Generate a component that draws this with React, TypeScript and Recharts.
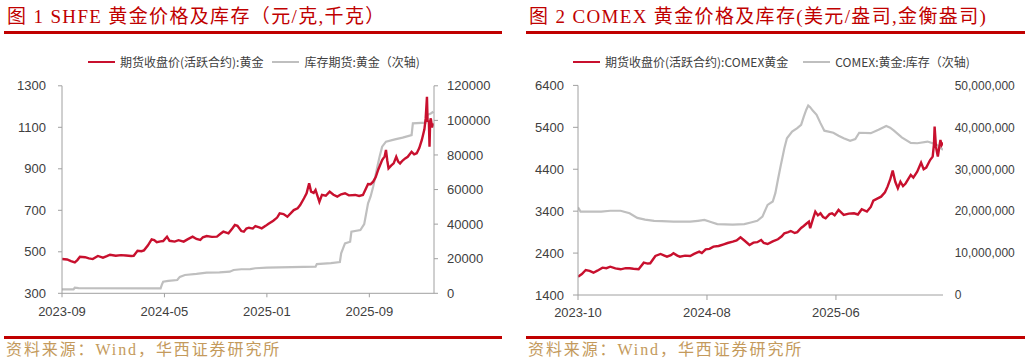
import React from 'react';
import { LineChart, Line, XAxis, YAxis } from 'recharts';

// ---------- text ----------
const shfeTitle = '图 1 SHFE 黄金价格及库存（元/克,千克）';
const comexTitle = '图 2 COMEX 黄金价格及库存(美元/盎司,金衡盎司)';
const sourceText = '资料来源：Wind，华西证券研究所';
const shfeNames = ['期货收盘价(活跃合约):黄金', '库存期货:黄金（次轴)'];
const comexNames = ['期货收盘价(活跃合约):COMEX黄金', 'COMEX:黄金:库存（次轴)'];

// ---------- SHFE (months since 2023-09) ----------
const shfeTickMonths = [0, 8, 16, 24];
const shfeTickLabels = ['2023-09', '2024-05', '2025-01', '2025-09'];
const shfeLeftTicks = [300, 500, 700, 900, 1100, 1300];
const shfeRightTicks = [0, 20000, 40000, 60000, 80000, 100000, 120000];

const shfePriceT = [0, 0.4, 0.7, 1.0, 1.2, 1.4, 1.8, 2.1, 2.4, 2.8, 3.2, 3.5, 3.75, 4.2, 4.6, 5.0, 5.4, 5.6, 5.9, 6.2, 6.4, 6.7, 7.0, 7.2, 7.4, 7.7, 7.9, 8.2, 8.4, 8.8, 9.1, 9.5, 9.8, 10.2, 10.5, 10.8, 11.0, 11.3, 11.7, 12.1, 12.4, 12.6, 13.0, 13.3, 13.5, 13.7, 14.0, 14.2, 14.4, 14.6, 14.9, 15.1, 15.4, 15.6, 15.9, 16.1, 16.5, 16.8, 17.0, 17.3, 17.6, 18.1, 18.4, 18.6, 18.9, 19.1, 19.3, 19.45, 19.65, 19.8, 20.1, 20.3, 20.6, 20.9, 21.2, 21.5, 21.8, 22.1, 22.4, 22.9, 23.2, 23.5, 23.7, 23.9, 24.1, 24.3, 24.5, 24.7, 25.0, 25.2, 25.3, 25.4, 25.5, 25.7, 25.9, 26.1, 26.25, 26.4, 26.6, 26.8, 27.0, 27.3, 27.5, 27.7, 27.9, 28.1, 28.3, 28.4, 28.5, 28.55, 28.65, 28.7, 28.75, 28.8, 28.9, 29.0];
const shfePriceV = [465, 463, 455, 449, 460, 476, 474, 468, 465, 480, 472, 479, 486, 481, 484, 482, 480, 481, 505, 503, 507, 530, 560, 556, 546, 550, 552, 573, 553, 549, 556, 549, 560, 573, 562, 557, 570, 576, 572, 573, 588, 597, 589, 612, 629, 625, 600, 597, 612, 616, 612, 624, 618, 613, 625, 634, 650, 665, 685, 682, 669, 701, 710, 725, 758, 782, 830, 790, 784, 798, 741, 774, 770, 790, 775, 766, 777, 782, 772, 774, 769, 774, 800, 827, 826, 838, 860, 897, 942, 960, 991, 940, 902, 915, 926, 958, 935, 926, 940, 950, 958, 982, 970, 975, 1000, 1039, 1090, 1143, 1247, 1130, 1127, 1006, 1130, 1143, 1100, 1119];

const shfeStockT = [0, 0.9, 1.0, 1.3, 7.7, 7.8, 7.9, 8.3, 9.0, 9.2, 9.6, 10.5, 11.3, 12.3, 13.1, 13.4, 14.0, 14.7, 15.1, 16.0, 19.8, 19.9, 21.0, 21.7, 21.8, 22.0, 22.1, 22.5, 22.6, 23.3, 23.6, 23.9, 24.1, 24.3, 24.6, 24.8, 25.0, 25.3, 26.0, 26.6, 27.3, 27.4, 28.4, 28.5, 28.8, 29.0];
const shfeStockV = [2300, 2300, 3200, 3000, 2900, 5000, 6700, 7200, 7700, 9500, 10600, 11200, 11900, 12100, 12500, 13500, 13900, 14000, 14500, 14800, 15400, 16900, 17400, 18100, 23100, 27000, 28900, 29800, 35600, 36600, 40000, 52000, 56000, 61600, 72300, 79000, 84800, 87700, 89000, 90000, 91500, 98300, 98700, 103100, 104000, 105000];

// ---------- COMEX (months since 2023-10) ----------
const comexTickMonths = [0, 10, 20];
const comexTickLabels = ['2023-10', '2024-08', '2025-06'];
const comexLeftTicks = [1400, 2400, 3400, 4400, 5400, 6400];
const comexRightTicks = [0, 10000000, 20000000, 30000000, 40000000, 50000000];

const comexPriceT = [0, 0.3, 0.6, 0.9, 1.2, 1.5, 1.9, 2.2, 2.5, 2.9, 3.3, 3.7, 4.0, 4.3, 4.7, 5.1, 5.4, 5.6, 6.0, 6.4, 6.7, 6.9, 7.2, 7.4, 7.7, 7.9, 8.3, 8.7, 9.0, 9.4, 9.6, 9.9, 10.2, 10.5, 10.9, 11.3, 11.6, 12.0, 12.3, 12.6, 12.9, 13.3, 13.6, 13.9, 14.2, 14.4, 14.7, 15.1, 15.5, 15.8, 16.0, 16.3, 16.5, 16.8, 17.0, 17.3, 17.5, 17.7, 17.9, 18.0, 18.2, 18.4, 18.6, 18.8, 19.0, 19.2, 19.5, 19.7, 19.9, 20.2, 20.4, 20.6, 21.0, 21.4, 21.7, 22.0, 22.4, 22.7, 22.9, 23.2, 23.5, 23.8, 24.0, 24.2, 24.4, 24.6, 24.8, 25.0, 25.2, 25.4, 25.8, 26.0, 26.3, 26.6, 26.8, 27.0, 27.3, 27.5, 27.6, 27.65, 27.75, 27.8, 27.9, 28.0, 28.1, 28.2, 28.3];
const comexPriceV = [1837, 1900, 1997, 1975, 1932, 1980, 2052, 2040, 2075, 2035, 2013, 2040, 2037, 2025, 2013, 2171, 2150, 2156, 2331, 2378, 2340, 2315, 2350, 2395, 2340, 2315, 2340, 2331, 2380, 2434, 2400, 2490, 2500, 2553, 2570, 2610, 2640, 2672, 2700, 2777, 2700, 2593, 2649, 2660, 2713, 2640, 2617, 2680, 2730, 2800, 2872, 2900, 2927, 2880, 2900, 3000, 3047, 3100, 3150, 2992, 3200, 3388, 3300, 3350, 3260, 3230, 3330, 3350, 3300, 3429, 3370, 3309, 3340, 3350, 3320, 3445, 3390, 3500, 3651, 3700, 3746, 3850, 3985, 4150, 4367, 4100, 3946, 4104, 4000, 4060, 4264, 4200, 4343, 4557, 4400, 4440, 4620, 4701, 5000, 5417, 4950, 4860, 4701, 4900, 5099, 4980, 5035];

const comexStockT = [0, 0.2, 1.8, 2.5, 3.3, 4.0, 4.6, 5.2, 5.9, 6.5, 7.4, 8.7, 9.3, 9.8, 10.3, 10.8, 12.0, 12.9, 13.4, 13.9, 14.3, 14.7, 15.1, 15.3, 15.5, 15.7, 16.0, 16.2, 16.6, 17.0, 17.3, 17.5, 17.7, 17.85, 18.0, 18.2, 18.5, 18.8, 19.1, 19.8, 20.2, 20.6, 21.1, 21.5, 21.8, 22.7, 23.3, 23.9, 24.2, 24.5, 25.1, 25.8, 26.3, 27.1, 27.7, 28.0, 28.3];
const comexStockV = [20900000, 19900000, 19900000, 20100000, 20100000, 19500000, 18400000, 18000000, 17700000, 17600000, 17500000, 17500000, 17700000, 17900000, 17400000, 16900000, 16800000, 16900000, 17300000, 17700000, 18700000, 21500000, 22300000, 24300000, 27500000, 30600000, 35000000, 37400000, 39000000, 39800000, 40600000, 42500000, 44200000, 45200000, 44800000, 44000000, 43000000, 41000000, 39200000, 38700000, 38000000, 37400000, 36800000, 37200000, 38700000, 38600000, 39400000, 40300000, 39900000, 39200000, 37600000, 36300000, 36200000, 36600000, 36000000, 35500000, 34600000];

const zip = (t: number[], v: number[]) => t.map((x, i) => ({ t: x, v: v[i] }));
const shfePrice = zip(shfePriceT, shfePriceV);
const shfeStock = zip(shfeStockT, shfeStockV);
const comexPrice = zip(comexPriceT, comexPriceV);
const comexStock = zip(comexStockT, comexStockV);

const RED = '#C8102E';
const GRAY = '#BFBFBF';
const AXIS = '#A0A0A0';
const TXT = '#404040';
const TITLE_RED = '#C00000';
const GOLD = '#C49A5C';
const tickFont = { fill: TXT, fontSize: 13, fontFamily: '"Liberation Sans", Arial, sans-serif' };

const abs = (s: React.CSSProperties): React.CSSProperties => ({ position: 'absolute', ...s });

function LegendItem({ color, label }: { color: string; label: string }) {
  return (
    <div style={{ display: 'flex', alignItems: 'center', whiteSpace: 'nowrap' }}>
      <div style={{ width: 27, height: 2.5, background: color, marginRight: 5 }} />
      <span>{label}</span>
    </div>
  );
}

function Frame({ x, w, title }: { x: number; w: number; title: string }) {
  return (
    <>
      <div style={abs({ left: x + 3, top: 6, fontSize: 19, lineHeight: '22px', color: TITLE_RED, letterSpacing: 1.35, whiteSpace: 'nowrap', fontFamily: '"Liberation Serif", "Noto Sans CJK SC", serif' })}>{title}</div>
      <div style={abs({ left: x, top: 31, width: w, height: 3, background: TITLE_RED })} />
      <div style={abs({ left: x, top: 336, width: w, height: 3, background: TITLE_RED })} />
      <div style={abs({ left: x + 2, top: 341, fontSize: 16, lineHeight: '18px', color: GOLD, letterSpacing: 1.9, whiteSpace: 'nowrap', fontFamily: '"Liberation Serif", "Noto Sans CJK SC", serif' })}>{sourceText}</div>
    </>
  );
}

export default function App() {
  return (
    <div style={abs({ left: 0, top: 0, width: 1029, height: 362, background: '#fff', overflow: 'hidden', fontFamily: '"Noto Sans CJK SC", sans-serif' })}>
      <Frame x={4} w={498} title={shfeTitle} />
      <Frame x={526} w={499} title={comexTitle} />

      {/* SHFE legend */}
      <div style={abs({ left: 88, top: 53, display: 'flex', gap: 9, fontSize: 12, color: TXT, lineHeight: '18px' })}>
        <LegendItem color={RED} label={shfeNames[0]} />
        <LegendItem color={GRAY} label={shfeNames[1]} />
      </div>
      {/* COMEX legend */}
      <div style={abs({ left: 573, top: 53, display: 'flex', gap: 15, fontSize: 12, color: TXT, lineHeight: '18px' })}>
        <LegendItem color={RED} label={comexNames[0]} />
        <LegendItem color={GRAY} label={comexNames[1]} />
      </div>

      <div style={abs({ left: 0, top: 0 })}>
        <LineChart width={514} height={362} margin={{ top: 85.8, right: 0, bottom: 38.7, left: 0 }}>
          <XAxis type="number" dataKey="t" domain={[0, 29.05]} ticks={shfeTickMonths} allowDataOverflow
            tickFormatter={(v: number) => shfeTickLabels[shfeTickMonths.indexOf(v)] ?? ''}
            height={30} tickSize={4} tickMargin={9.5} stroke={AXIS} tick={tickFont} interval={0} />
          <YAxis yAxisId="l" domain={[300, 1300]} ticks={shfeLeftTicks} width={62} tickSize={4} tickMargin={12}
            stroke={AXIS} tick={tickFont} interval={0} />
          <YAxis yAxisId="r" orientation="right" domain={[0, 120000]} ticks={shfeRightTicks} width={80} tickSize={4}
            tickMargin={9} stroke={AXIS} tick={tickFont} interval={0} />
          <Line yAxisId="r" data={shfeStock} dataKey="v" stroke={GRAY} strokeWidth={2.2} dot={false} isAnimationActive={false} />
          <Line yAxisId="l" data={shfePrice} dataKey="v" stroke={RED} strokeWidth={2.4} dot={false} isAnimationActive={false} />
        </LineChart>
      </div>

      <div style={abs({ left: 514, top: 0 })}>
        <LineChart width={515} height={362} margin={{ top: 85.4, right: 0, bottom: 37, left: 0 }}>
          <XAxis type="number" dataKey="t" domain={[0, 28.3]} ticks={comexTickMonths} allowDataOverflow
            tickFormatter={(v: number) => comexTickLabels[comexTickMonths.indexOf(v)] ?? ''}
            height={30} tickSize={5} tickMargin={8} stroke={AXIS} tick={tickFont} interval={0} />
          <YAxis yAxisId="l" domain={[1400, 6400]} ticks={comexLeftTicks} width={64} tickSize={5} tickMargin={9}
            stroke={AXIS} tick={tickFont} interval={0} />
          <YAxis yAxisId="r" orientation="right" domain={[0, 50000000]} ticks={comexRightTicks} width={86} tickSize={0}
            tickMargin={11.7} axisLine={false} tickLine={false}
            tickFormatter={(v: number) => v.toLocaleString('en-US')}
            tick={{ ...tickFont, fontSize: 12 }} interval={0} />
          <Line yAxisId="r" data={comexStock} dataKey="v" stroke={GRAY} strokeWidth={2.2} dot={false} isAnimationActive={false} />
          <Line yAxisId="l" data={comexPrice} dataKey="v" stroke={RED} strokeWidth={2.4} dot={false} isAnimationActive={false} />
        </LineChart>
      </div>
    </div>
  );
}
